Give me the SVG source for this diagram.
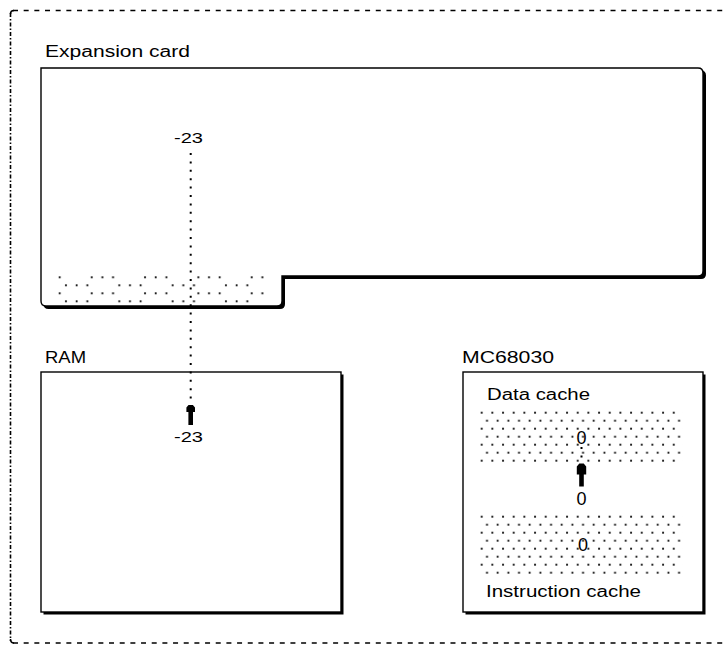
<svg xmlns="http://www.w3.org/2000/svg" width="724" height="647" viewBox="0 0 724 647">
<style>
.lbl{font-family:"Liberation Sans",Arial,sans-serif;font-size:16px;fill:#000}
.num{font-family:"Liberation Sans",Arial,sans-serif;font-size:15px;fill:#000}
.zero{font-family:"Liberation Sans",Arial,sans-serif;font-size:18px;fill:#000;text-anchor:middle}
.out{fill:#fff;stroke:#000;stroke-width:1.4}
.shadow{fill:#000;stroke:none}
.dot{stroke:#000;stroke-width:2;stroke-dasharray:2 6.4;fill:none}
.arrow{fill:#000}
.border{stroke:#000;stroke-width:1.6;fill:none}
</style>
<defs>
<pattern id="pCard" patternUnits="userSpaceOnUse" x="38.4" y="273.3" width="53.33" height="16">
<circle cx="0" cy="4" r="1.1" fill="#000"/>
<circle cx="10.67" cy="4" r="1.1" fill="#000"/>
<circle cx="21.33" cy="4" r="1.1" fill="#000"/>
<circle cx="27.6" cy="12" r="1.1" fill="#000"/>
<circle cx="38.27" cy="12" r="1.1" fill="#000"/>
<circle cx="48.93" cy="12" r="1.1" fill="#000"/>
<circle cx="53.33" cy="4" r="1.1" fill="#000"/>
</pattern>
<pattern id="pData" patternUnits="userSpaceOnUse" x="479.7" y="410.7" width="10.67" height="16">
<circle cx="2" cy="2" r="1.1" fill="#000"/>
<circle cx="7.33" cy="10" r="1.1" fill="#000"/>
</pattern>
<pattern id="pInst" patternUnits="userSpaceOnUse" x="479.7" y="514.7" width="10.67" height="16">
<circle cx="2" cy="2" r="1.1" fill="#000"/>
<circle cx="7.33" cy="10" r="1.1" fill="#000"/>
</pattern>
</defs>

<g id="frame">
<line class="border" x1="13" y1="10.5" x2="724" y2="10.5" stroke-dasharray="5 5.67"/>
<line class="border" x1="13" y1="643" x2="724" y2="643" stroke-dasharray="5 5.67"/>
<line class="border" x1="10.5" y1="13" x2="10.5" y2="641" stroke-dasharray="4 2 1.5 2"/>
<path class="border" d="M10.5,14 Q10.5,10.5 14,10.5"/>
<path class="border" d="M10.5,639 Q10.5,643 14,643"/>
</g>

<g id="expansion-card">
<text class="lbl" x="45" y="56.7" textLength="145" lengthAdjust="spacingAndGlyphs">Expansion card</text>
<path class="shadow" d="M43.5,70.5 H701 Q706,70.5 706,75.5 V274 Q706,279 701,279 H285 V304 Q285,309 280,309 H48.5 Q43.5,309 43.5,304 Z"/>
<path class="out" d="M41,68 H698 Q703,68 703,73 V271 Q703,276 698,276 H282 V301 Q282,306 277,306 H46 Q41,306 41,301 Z"/>
<rect x="56" y="273" width="211" height="32" fill="url(#pCard)"/>
<text class="num" x="174" y="142.7" textLength="29" lengthAdjust="spacingAndGlyphs">-23</text>
</g>

<g id="ram">
<text class="lbl" x="45" y="363" textLength="41" lengthAdjust="spacingAndGlyphs">RAM</text>
<rect class="shadow" x="43.5" y="374.5" width="300" height="240"/>
<rect class="out" x="41" y="372" width="300" height="240"/>
<text class="num" x="174" y="442" textLength="29" lengthAdjust="spacingAndGlyphs">-23</text>
</g>

<g id="mc68030">
<text class="lbl" x="462" y="363" textLength="92" lengthAdjust="spacingAndGlyphs">MC68030</text>
<rect class="shadow" x="465.5" y="374.5" width="240" height="240"/>
<rect class="out" x="463" y="372" width="240" height="240"/>
<g id="data-cache">
<text class="lbl" x="487" y="400" textLength="103" lengthAdjust="spacingAndGlyphs">Data cache</text>
<rect x="479" y="410" width="204" height="53" fill="url(#pData)"/>
<text class="zero" x="581.5" y="444">0</text>
</g>
<text class="zero" x="581.5" y="505">0</text>
<g id="instruction-cache">
<rect x="479" y="514" width="204" height="61" fill="url(#pInst)"/>
<text class="zero" x="583" y="551">0</text>
<text class="lbl" x="486" y="597" textLength="155" lengthAdjust="spacingAndGlyphs">Instruction cache</text>
</g>
</g>

<g id="connectors">
<line class="dot" x1="190.7" y1="153" x2="190.7" y2="404"/>
<path class="arrow" d="M188.5,405 L192.9,405 L195,407.5 L195,412 L193,412 L193,425 L188.4,425 L188.4,412 L186.4,412 L186.4,407.5 Z"/>
<line class="dot" x1="581.5" y1="447" x2="581.5" y2="462"/>
<path class="arrow" d="M579.3,463.5 L583.7,463.5 L586.2,466.5 L586.2,474.5 L583.8,474.5 L583.8,486.5 L579.2,486.5 L579.2,474.5 L576.8,474.5 L576.8,466.5 Z"/>
</g>
</svg>
